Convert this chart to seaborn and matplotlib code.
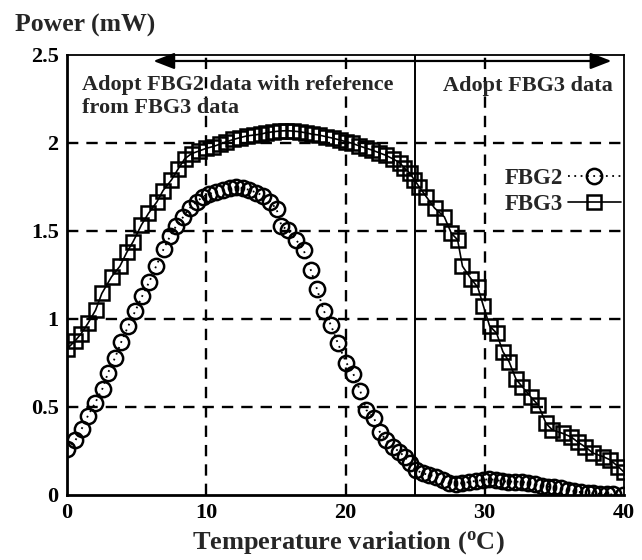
import numpy as np
import pandas as pd
import matplotlib
matplotlib.use("Agg")
import matplotlib.pyplot as plt
import seaborn as sns

# ---- data ----
fbg2_t = [0, 0.6, 1.05, 1.5, 2.0, 2.55, 2.95, 3.45, 3.9, 4.4, 4.9, 5.4, 5.9, 6.4, 6.95,
          7.4, 7.85, 8.35, 8.8, 9.3, 9.75, 10.2, 10.7, 11.2, 11.7, 12.15, 12.65, 13.1,
          13.6, 14.1, 14.6, 15.05, 15.4, 15.85, 16.45, 17.0, 17.5, 17.95, 18.45, 18.95,
          19.45, 20.05, 20.55, 21.05, 21.5, 22.05, 22.45, 22.9, 23.4, 23.85, 24.25, 24.6,
          25.05, 25.55, 26.0, 26.5, 26.98, 27.45, 27.9, 28.4, 28.9, 29.35, 29.85, 30.3,
          30.8, 31.25, 31.7, 32.2, 32.65, 33.1, 33.6, 34.1, 34.55, 35.0, 35.5, 35.95,
          36.4, 36.9, 37.4, 37.8, 38.3, 38.75, 39.2, 39.9]
fbg2_p = [0.26, 0.31, 0.375, 0.45, 0.52, 0.605, 0.695, 0.78, 0.87, 0.96, 1.045, 1.13,
          1.21, 1.30, 1.40, 1.47, 1.53, 1.58, 1.63, 1.665, 1.695, 1.71, 1.723, 1.733,
          1.743, 1.75, 1.743, 1.733, 1.718, 1.70, 1.667, 1.623, 1.53, 1.505, 1.45, 1.39,
          1.28, 1.17, 1.045, 0.966, 0.862, 0.752, 0.69, 0.593, 0.483, 0.436, 0.36, 0.3125,
          0.274, 0.246, 0.218, 0.18, 0.142, 0.123, 0.114, 0.104, 0.085, 0.066, 0.062,
          0.068, 0.074, 0.08, 0.085, 0.09, 0.085, 0.078, 0.076, 0.076, 0.074, 0.07,
          0.062, 0.05, 0.047, 0.043, 0.038, 0.03, 0.022, 0.016, 0.012, 0.009, 0.006,
          0.005, 0.003, 0.0]

fbg3_t = [0, 0.57, 1.0, 1.5, 2.05, 2.5, 3.2, 3.8, 4.3, 4.75, 5.35, 5.85, 6.45, 6.9, 7.5,
          8.0, 8.45, 8.95, 9.5, 10.0, 10.5, 11.0, 11.45, 11.95, 12.4, 12.9, 13.4, 13.9,
          14.3, 14.8, 15.3, 15.75, 16.2, 16.7, 17.15, 17.6, 18.1, 18.6, 19.1, 19.6,
          20.05, 20.5, 21.0, 21.5, 21.9, 22.4, 22.9, 23.4, 23.9, 24.2, 24.6, 24.95,
          25.3, 25.8, 26.4, 27.1, 27.6, 28.05, 28.4, 29.0, 29.5, 29.9, 30.35, 30.85,
          31.3, 31.75, 32.25, 32.7, 33.3, 33.85, 34.4, 34.85, 35.6, 36.2, 36.7, 37.2,
          37.8, 38.5, 39.0, 39.6, 40.0]
fbg3_p = [0.83, 0.875, 0.915, 0.975, 1.05, 1.145, 1.24, 1.30, 1.38, 1.44, 1.535, 1.60,
          1.665, 1.73, 1.79, 1.855, 1.91, 1.94, 1.955, 1.97, 1.98, 1.994, 2.007, 2.02,
          2.03, 2.04, 2.045, 2.05, 2.058, 2.064, 2.068, 2.07, 2.068, 2.064, 2.058, 2.05,
          2.045, 2.036, 2.027, 2.017, 2.007, 1.998, 1.983, 1.97, 1.96, 1.945, 1.93, 1.91,
          1.888, 1.86, 1.83, 1.79, 1.75, 1.695, 1.63, 1.58, 1.487, 1.45, 1.30, 1.23,
          1.18, 1.075, 0.96, 0.92, 0.815, 0.757, 0.657, 0.615, 0.558, 0.51, 0.407, 0.37,
          0.35, 0.33, 0.30, 0.274, 0.237, 0.218, 0.20, 0.16, 0.13]

x_ticks = [0, 10, 20, 30, 40]
x_tick_labels = ["0", "10", "20", "30", "40"]
y_ticks = [0, 0.5, 1, 1.5, 2, 2.5]
y_tick_labels = ["0", "0.5", "1", "1.5", "2", "2.5"]
series_names = ["FBG2", "FBG3"]
boundary_t = 25
arrow_span = [6.2, 39.1]
arrow_level = 2.466

sns.set_style("white")
plt.rcParams["font.family"] = ["Liberation Serif", "DejaVu Serif"]
plt.rcParams["font.weight"] = "bold"
plt.rcParams["mathtext.fontset"] = "custom"
plt.rcParams["mathtext.rm"] = "Liberation Serif:bold"
plt.rcParams["mathtext.bf"] = "Liberation Serif:bold"
plt.rcParams["mathtext.it"] = "Liberation Serif:bold"

fig = plt.figure(figsize=(6.42, 5.6), dpi=100)
ax = fig.add_axes([67 / 642, 65 / 560, (624 - 67) / 642, (495 - 55) / 560])

df2 = pd.DataFrame({"T": fbg2_t, "P": fbg2_p})
df3 = pd.DataFrame({"T": fbg3_t, "P": fbg3_p})

sns.lineplot(data=df2, x="T", y="P", ax=ax, estimator=None, sort=False,
             color="black", lw=1.3, linestyle=(0, (1, 2.5)),
             marker="o", markersize=11, markerfacecolor="none",
             markeredgecolor="black", markeredgewidth=1.8, label=series_names[0],
             zorder=5)
sns.lineplot(data=df3, x="T", y="P", ax=ax, estimator=None, sort=False,
             color="black", lw=1.2, linestyle="-",
             marker="s", markersize=10, markerfacecolor="none",
             markeredgecolor="black", markeredgewidth=1.8, label=series_names[1],
             zorder=5)

ax.set_xlim(0, 40)
ax.set_ylim(0, 2.5)
ax.set_xticks(x_ticks)
ax.set_xticklabels(x_tick_labels)
ax.set_yticks(y_ticks)
ax.set_yticklabels(y_tick_labels)
ax.tick_params(axis="both", labelsize=16, direction="in", length=4, width=1.2,
               pad=6, colors="black")
ax.set_xlabel("")
ax.set_ylabel("")

# dashed grid (interior only)
for gx in x_ticks[1:-1]:
    ax.axvline(gx, color="black", lw=1.7, linestyle=(0, (4.8, 3.4)), zorder=1)
for gy in y_ticks[1:-1]:
    ax.axhline(gy, color="black", lw=1.7, linestyle=(0, (4.8, 3.4)), zorder=1)

ax.axvline(boundary_t, color="black", lw=1.4, zorder=2)

for side in ["left", "bottom"]:
    ax.spines[side].set_linewidth(2.0)
for side in ["top", "right"]:
    ax.spines[side].set_linewidth(1.3)
for s in ax.spines.values():
    s.set_color("black")

ax.annotate("", xy=(arrow_span[1], arrow_level), xytext=(arrow_span[0], arrow_level),
            arrowprops=dict(arrowstyle="<|-|>,head_length=0.85,head_width=0.33",
                            color="black", lw=1.6, mutation_scale=15,
                            shrinkA=0, shrinkB=0), zorder=6)

ax.text(1.1, 2.262, "Adopt FBG2 data with reference\nfrom FBG3 data", fontsize=16,
        fontweight="bold", ha="left", va="center", linespacing=1.2, zorder=7)
ax.text(27.0, 2.325, "Adopt FBG3 data", fontsize=16, fontweight="bold",
        ha="left", va="center", zorder=7)

leg = ax.legend(loc="upper left", bbox_to_anchor=(505 / 642, 1 - 168 / 560),
                bbox_transform=fig.transFigure, frameon=False, markerfirst=False,
                prop={"family": "Liberation Serif", "weight": "bold", "size": 16.5},
                handlelength=2.3, handletextpad=0.2, labelspacing=0.2, borderpad=0,
                borderaxespad=0)

fig.text(15 / 642, 1 - 25 / 560, "Power (mW)", fontsize=18.5, fontweight="bold",
         ha="left", va="center")
fig.text(348 / 642, 1 - 543 / 560, r"Temperature variation ($^{\rm o}$C)", fontsize=19,
         fontweight="bold", ha="center", va="center")

fig.savefig("out.png", dpi=100)
